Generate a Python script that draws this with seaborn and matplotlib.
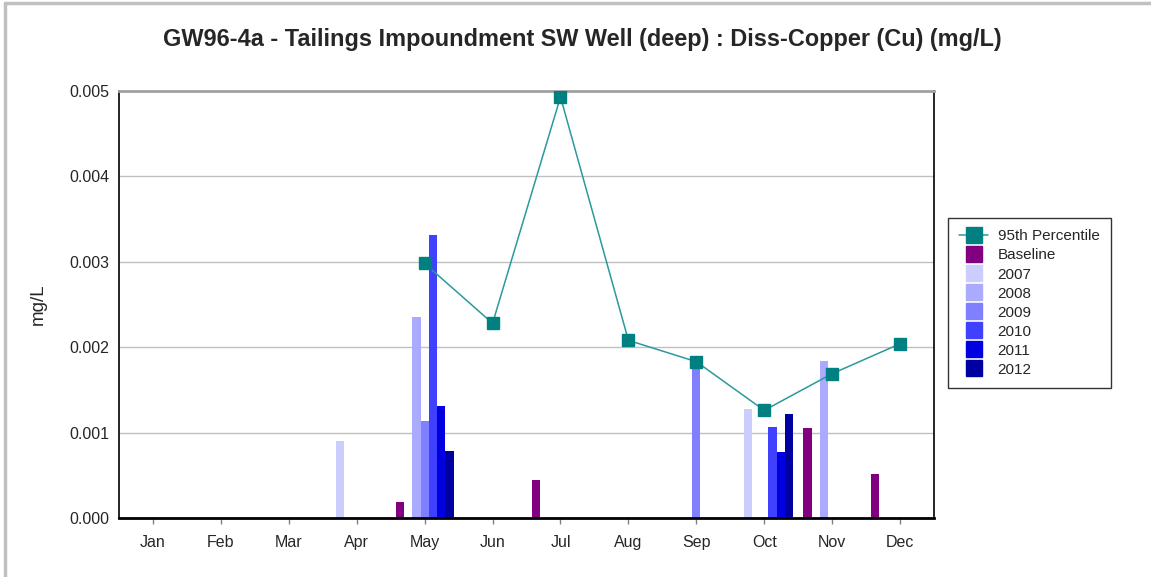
import numpy as np
import pandas as pd
import matplotlib
matplotlib.use('Agg')
import matplotlib.pyplot as plt
import seaborn as sns
from matplotlib.lines import Line2D

# Data (mg/L), None = no sample
months = ['Jan', 'Feb', 'Mar', 'Apr', 'May', 'Jun', 'Jul', 'Aug', 'Sep', 'Oct', 'Nov', 'Dec']
baseline = [None, None, None, None, 0.00019, None, 0.00044, None, None, None, 0.00105, 0.00052]
y2007 = [None, None, None, 0.00090, None, None, None, None, None, 0.00128, None, None]
y2008 = [None, None, None, None, 0.00235, None, None, None, None, None, 0.00184, None]
y2009 = [None, None, None, None, 0.00114, None, None, None, 0.00181, None, None, None]
y2010 = [None, None, None, None, 0.00331, None, None, None, None, 0.00107, None, None]
y2011 = [None, None, None, None, 0.00131, None, None, None, None, 0.00077, None, None]
y2012 = [None, None, None, None, 0.00078, None, None, None, None, 0.00122, None, None]
p95 = [None, None, None, None, 0.00298, 0.00228, 0.00493, 0.00208, 0.00183, 0.00126, 0.00169, 0.00204]

series_names = ['Baseline', '2007', '2008', '2009', '2010', '2011', '2012']
series_vals = [baseline, y2007, y2008, y2009, y2010, y2011, y2012]
colors = ['#800080', '#CCCCFF', '#AAAAFF', '#8080FF', '#4040FF', '#0000E0', '#0000A0']

rows = []
for name, vals in zip(series_names, series_vals):
    for m, v in zip(months, vals):
        rows.append({'Month': m, 'Series': name, 'Value': np.nan if v is None else v})
df = pd.DataFrame(rows)

sns.set_style('white')
plt.rcParams['font.family'] = ['Liberation Sans', 'DejaVu Sans']

fig = plt.figure(figsize=(11.51, 5.77), dpi=100)
ax = fig.add_axes([0.1034, 0.1023, 0.7081, 0.74])

# gridlines
for g in [0.001, 0.002, 0.003, 0.004]:
    ax.axhline(g, color='#c0c0c0', lw=1, zorder=0)

sns.barplot(data=df, x='Month', y='Value', hue='Series', order=months,
            hue_order=series_names, palette=colors, width=0.85,
            errorbar=None, saturation=1, dodge=True, ax=ax, legend=False,
            linewidth=0, zorder=2)

p95_arr = np.array([np.nan if v is None else v for v in p95])
idx = np.arange(len(months))
ax.plot(idx, p95_arr, color='#2a9a9a', lw=1.1, zorder=3)
ax.plot(idx, p95_arr, linestyle='none', marker='s', markersize=9,
        color='#008080', zorder=4)

ax.set_xlim(-0.5, 11.5)
ax.set_ylim(0, 0.005)
ax.set_yticks([0, 0.001, 0.002, 0.003, 0.004, 0.005])
ax.set_yticklabels(['0.000', '0.001', '0.002', '0.003', '0.004', '0.005'])
ax.set_xlabel('')
ax.set_ylabel('mg/L', fontsize=13.5, labelpad=16)
ax.tick_params(axis='y', length=0, labelsize=11.5, pad=7)
ax.tick_params(axis='x', length=4, width=1, color='#808080', labelsize=11.5, pad=8,
               direction='out', bottom=True)

for side in ['left', 'right']:
    ax.spines[side].set_color('black')
    ax.spines[side].set_linewidth(1.2)
ax.spines['bottom'].set_color('black')
ax.spines['bottom'].set_linewidth(2)
ax.spines['top'].set_color('#a0a0a0')
ax.spines['top'].set_linewidth(2)

fig.text(0.5057, 0.931, 'GW96-4a - Tailings Impoundment SW Well (deep) : Diss-Copper (Cu) (mg/L)',
         ha='center', va='center', fontsize=16.9, fontweight='bold')

# legend
handles = [Line2D([0], [0], color='#2a9a9a', lw=1.1, marker='s', markersize=11,
                  markerfacecolor='#008080', markeredgecolor='#008080')]
labels = ['95th Percentile']
for name, c in zip(series_names, colors):
    handles.append(Line2D([0], [0], linestyle='none', marker='s', markersize=11,
                          markerfacecolor=c, markeredgecolor=c))
    labels.append(name)
leg = fig.legend(handles, labels, loc='upper left', bbox_to_anchor=(0.8236, 0.6222),
                 fontsize=11, frameon=True, fancybox=False, borderpad=0.75,
                 labelspacing=0.33, handlelength=1.9, handletextpad=0.6,
                 borderaxespad=0)
leg.get_frame().set_edgecolor('black')
leg.get_frame().set_linewidth(1)

# figure border (left and top visible)
fig.add_artist(Line2D([0.004, 0.004], [0, 0.995], color='#c0c0c0', lw=2.5,
                      transform=fig.transFigure))
fig.add_artist(Line2D([0.004, 1], [0.995, 0.995], color='#c0c0c0', lw=2.5,
                      transform=fig.transFigure))

fig.savefig('out.png', dpi=100)
